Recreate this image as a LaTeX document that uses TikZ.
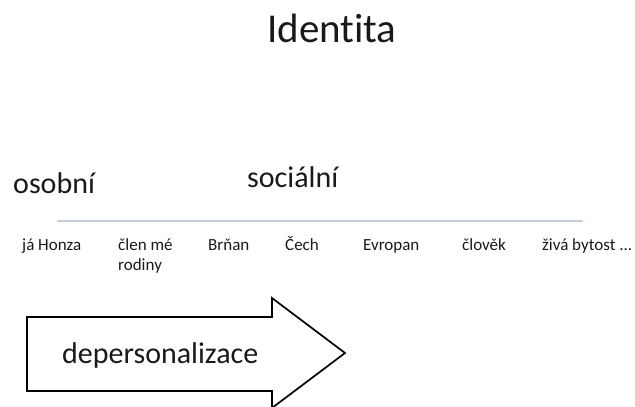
\documentclass[tikz,border=0pt]{standalone}
\usepackage{fontspec}
\setmainfont{Carlito}[Ligatures=NoCommon]
\usetikzlibrary{positioning}

\definecolor{scalegray}{HTML}{C3CDD8}

\begin{document}
\begin{tikzpicture}[x=1pt,y=-1pt,
		every node/.style={inner sep=0pt,anchor=base west,text=black!90},
		title/.style={font=\fontsize{41}{44}\selectfont},
		pole/.style={font=\fontsize{30}{34}\selectfont},
		level/.style={font=\fontsize{17}{20}\selectfont,align=left}]
		\useasboundingbox (0,0) rectangle (635,407);
		% nadpis
		\node [title] (identita) at (267,42) {Identita};
		% dva poly skaly
		\node [pole] (osobni) at (13,193) {osobní};
		\node [pole] (socialni) at (247,187) {sociální};
		\coordinate (scaleL) at (57,221);
		\coordinate (scaleR) at (583,221);
		\draw [scalegray,line width=1.6pt] (scaleL) -- (scaleR);
		% urovne identity (base = posledni radek)
		\node [level] (ja) at (22,250) {já Honza};
		\node [level] (clen) at (118,270) {člen mé\\rodiny};
		\node [level] (brnan) at (208,250) {Brňan};
		\node [level] (cech) at (285,250) {Čech};
		\node [level] (evropan) at (363,250) {Evropan};
		\node [level] (clovek) at (462,250) {člověk};
		\node [level] (bytost) at (542,250) {živá bytost ...};
		% sipka
		\draw [black,line width=1.7pt,line join=miter]
			(27,317) -- (272,317) -- (272,298) -- (345,353)
			-- (272,408) -- (272,391) -- (27,391) -- cycle;
		\node [pole] (depers) at (62,363) {depersonalizace};
\end{tikzpicture}
\end{document}
